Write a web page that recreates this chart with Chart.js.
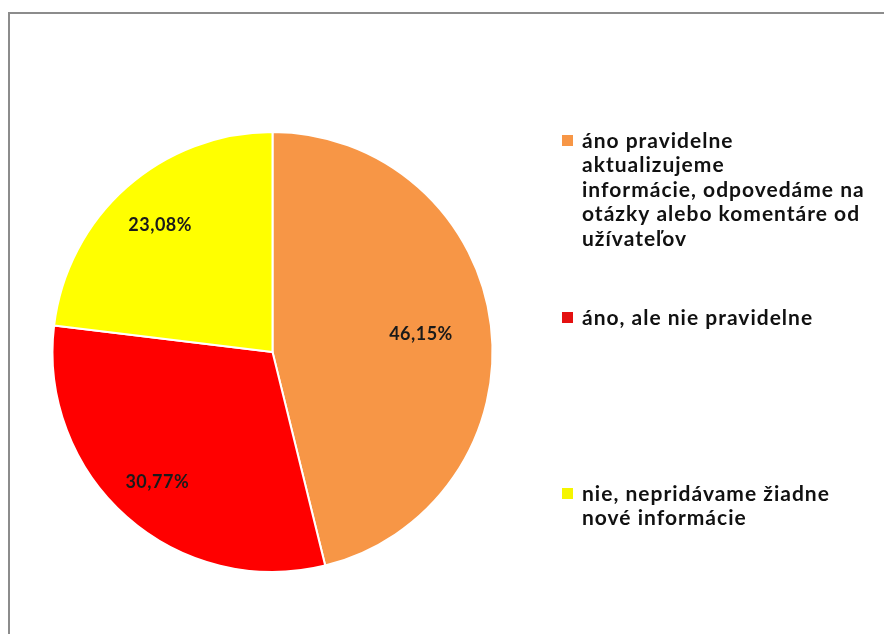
<!DOCTYPE html>
<html>
<head>
<meta charset="utf-8">
<script src="https://cdn.jsdelivr.net/npm/chart.js@4/dist/chart.umd.min.js"></script>
<style>
  html, body { margin: 0; padding: 0; background: #fff; }
  #wrap { position: relative; width: 884px; height: 634px; }
</style>
</head>
<body>
<div id="wrap"><canvas id="pieChart" width="884" height="634"></canvas></div>
<script>
// odpovede a podiely v percentach
const categories = [
  ["áno pravidelne", "aktualizujeme", "informácie, odpovedáme na", "otázky alebo komentáre od", "užívateľov"],
  ["áno, ale nie pravidelne"],
  ["nie, nepridávame žiadne", "nové informácie"]
];
const values = [46.15, 30.77, 23.08];
const valueLabels = ["46,15%", "30,77%", "23,08%"];
const colors = ["#F79646", "#FF0000", "#FFFF00"];
const legendSwatch = ["#F79646", "#E41010", "#F5F500"];

// rozlozenie popisov
const legendTop = [141, 318, 494];
const labelRadius = [0.68, 0.79, 0.77];

const FONT = "Lato, 'Open Sans', sans-serif";

// ramik okolo celeho grafu
const framePlugin = {
  id: "frame",
  beforeDraw(chart) {
    const c = chart.ctx;
    c.save();
    c.fillStyle = "#fff";
    c.fillRect(0, 0, chart.width, chart.height);
    c.strokeStyle = "#8c8c8c";
    c.lineWidth = 2;
    c.strokeRect(9, 13, chart.width + 20, chart.height + 20);
    c.restore();
  }
};

// percenta vnutri vysekov
const sliceLabels = {
  id: "sliceLabels",
  afterDatasetsDraw(chart) {
    const c = chart.ctx;
    const meta = chart.getDatasetMeta(0);
    c.save();
    c.font = "bold 18px " + FONT;
    c.letterSpacing = "0.5px";
    c.fillStyle = "#1a1a1a";
    c.textAlign = "center";
    c.textBaseline = "middle";
    meta.data.forEach((arc, i) => {
      const p = arc.getProps(["x", "y", "startAngle", "endAngle", "outerRadius"], true);
      const mid = (p.startAngle + p.endAngle) / 2;
      const r = p.outerRadius * labelRadius[i];
      c.fillText(valueLabels[i], p.x + Math.cos(mid) * r, p.y + Math.sin(mid) * r);
    });
    c.restore();
  }
};

// legenda vpravo s viacriadkovym textom
const sideLegend = {
  id: "sideLegend",
  afterDraw(chart) {
    const c = chart.ctx;
    c.save();
    c.font = "bold 21px " + FONT;
    c.letterSpacing = "1px";
    c.textAlign = "left";
    c.textBaseline = "middle";
    categories.forEach((lines, i) => {
      const y0 = legendTop[i];
      c.fillStyle = legendSwatch[i];
      c.fillRect(562, y0 - 6, 11, 11);
      c.fillStyle = "#111";
      lines.forEach((t, k) => c.fillText(t, 582, y0 + k * 24.5));
    });
    c.restore();
  }
};

new Chart(document.getElementById("pieChart"), {
  type: "pie",
  data: {
    labels: categories.map(l => l.join(" ")),
    datasets: [{
      data: values,
      backgroundColor: colors,
      borderColor: "#fff",
      borderWidth: 2
    }]
  },
  options: {
    responsive: false,
    animation: false,
    layout: { padding: { left: 51, right: 390, top: 131, bottom: 61 } },
    plugins: {
      legend: { display: false },
      tooltip: { enabled: false }
    }
  },
  plugins: [framePlugin, sliceLabels, sideLegend]
});
</script>
</body>
</html>
